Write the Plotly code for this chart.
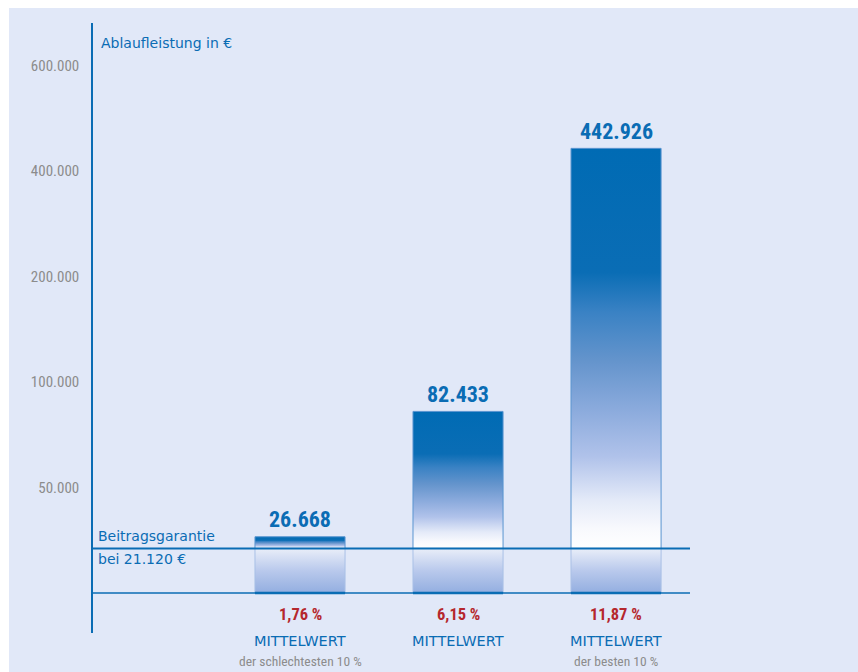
import numpy as np
import plotly.graph_objects as go

# ---- data ----
values = [26668, 82433, 442926]
value_labels = ["26.668", "82.433", "442.926"]
rate_labels = ["1,76 %", "6,15 %", "11,87 %"]
cat_main = ["MITTELWERT", "MITTELWERT", "MITTELWERT"]
cat_sub = ["der schlechtesten 10 %", "", "der besten 10 %"]
guarantee = 21120
guarantee_label = ["Beitragsgarantie", "bei 21.120 €"]
tick_values = [50000, 100000, 200000, 400000, 600000]
tick_labels = ["50.000", "100.000", "200.000", "400.000", "600.000"]
axis_title = "Ablaufleistung in €"

# ---- styles ----
BG = "#e1e8f8"
BLUE = "#0a6cb4"
GRAY = "#8c8c8c"
RED = "#b5272d"
NARROW = "Roboto Condensed, Roboto, DejaVu Sans Condensed, sans-serif"
SANS = "DejaVu Sans, Verdana, sans-serif"

W, H = 858, 672
ML, MR, MT, MB = 93, 168, 23, 39
PW, PH = W - ML - MR, H - MT - MB


def scale(v):
    """Broken axis: linear up to the first tick, log between the doubling ticks,
    linear on the last segment."""
    v = np.asarray(v, dtype=float)
    n = len(tick_values)
    pos_ticks = np.arange(1, n + 1, dtype=float)
    lin0 = v / tick_values[0]
    logpos = np.interp(np.log(np.maximum(v, 1.0)), np.log(tick_values[:-1]), pos_ticks[:-1])
    last = np.interp(v, tick_values[-2:], pos_ticks[-2:])
    return np.where(v <= tick_values[0], lin0, np.where(v <= tick_values[-2], logpos, last))


def py(pix):  # pixel row -> paper y
    return (H - MB - pix) / PH


def px(pix):  # pixel column -> paper x
    return (pix - ML) / PW


upper_scale = [[0, "#ffffff"], [0.05, "#f8f9fd"], [0.12, "#e4eaf8"], [0.23, "#b0c2ea"],
               [0.35, "#8aaadc"], [0.47, "#6494cc"], [0.59, "#3a82c4"],
               [0.69, "#0a6db5"], [1, "#006bb4"]]
lower_scale = [[0, "#93aee0"], [0.5, "#b9c9ec"], [1, "#e9eef9"]]

bar_w = 0.57
g = float(scale(guarantee))
fig = go.Figure()
for i, v in enumerate(values):
    top = float(scale(v))
    x0, x1 = i - bar_w / 2, i + bar_w / 2
    fig.add_trace(go.Scatter(
        x=[x0, x1, x1, x0, x0], y=[0, 0, g, g, 0], mode="lines",
        fill="toself", fillcolor="#b9c9ec",
        fillgradient=dict(type="vertical", colorscale=lower_scale, start=0, stop=g),
        line=dict(color="#a9c0e6", width=1), hoverinfo="skip", showlegend=False))
    fig.add_trace(go.Scatter(
        x=[x0, x1, x1, x0, x0], y=[g, g, top, top, g], mode="lines",
        fill="toself", fillcolor="#6494cc",
        fillgradient=dict(type="vertical", colorscale=upper_scale, start=g, stop=top),
        line=dict(color="#5a95d0", width=1), hoverinfo="skip", showlegend=False))
    fig.add_trace(go.Scatter(
        x=[x0, x1], y=[0, 0], mode="lines", line=dict(color=BLUE, width=2.5),
        hoverinfo="skip", showlegend=False))

shapes = [
    dict(type="rect", xref="paper", yref="paper", x0=px(0), x1=px(W), y0=py(0), y1=py(8),
         fillcolor="white", line_width=0, layer="below"),
    dict(type="rect", xref="paper", yref="paper", x0=px(0), x1=px(9), y0=py(H), y1=py(0),
         fillcolor="white", line_width=0, layer="below"),
    dict(type="line", xref="paper", yref="y", x0=0, x1=1, y0=g, y1=g,
         line=dict(color=BLUE, width=2)),
    dict(type="line", xref="paper", yref="y", x0=0, x1=1, y0=0, y1=0,
         line=dict(color=BLUE, width=1.5)),
]

ann = []
for i, v in enumerate(values):
    ann.append(dict(x=i, y=float(scale(v)), xref="x", yref="y", text=value_labels[i],
                    showarrow=False, yanchor="middle", yshift=17,
                    font=dict(family=NARROW, size=22, color=BLUE, weight=700)))
    ann.append(dict(x=i, y=py(614), xref="x", yref="paper", text=rate_labels[i],
                    showarrow=False, yanchor="middle",
                    font=dict(family=NARROW, size=16.5, color=RED, weight=700)))
    ann.append(dict(x=i, y=py(641), xref="x", yref="paper", text=cat_main[i],
                    showarrow=False, yanchor="middle",
                    font=dict(family=SANS, size=14.5, color=BLUE)))
    if cat_sub[i]:
        ann.append(dict(x=i, y=py(661), xref="x", yref="paper", text=cat_sub[i],
                        showarrow=False, yanchor="middle",
                        font=dict(family=NARROW, size=13.5, color=GRAY)))

ann.append(dict(x=px(99), y=py(43), xref="paper", yref="paper", text=axis_title,
                showarrow=False, xanchor="left", yanchor="middle",
                font=dict(family=SANS, size=14, color=BLUE)))
ann.append(dict(x=px(96), y=g, xref="paper", yref="y", text=guarantee_label[0],
                showarrow=False, xanchor="left", yanchor="middle", yshift=12,
                font=dict(family=SANS, size=14, color=BLUE)))
ann.append(dict(x=px(96), y=g, xref="paper", yref="y", text=guarantee_label[1],
                showarrow=False, xanchor="left", yanchor="middle", yshift=-11,
                font=dict(family=SANS, size=14, color=BLUE)))

fig.update_layout(
    width=W, height=H, margin=dict(l=ML, r=MR, t=MT, b=MB, pad=0),
    paper_bgcolor=BG, plot_bgcolor="rgba(0,0,0,0)",
    shapes=shapes, annotations=ann, showlegend=False,
    xaxis=dict(range=[-1.31, 2.468], visible=False, fixedrange=True),
    yaxis=dict(range=[-0.379, 5.403], showgrid=False, zeroline=False,
               showline=True, linecolor=BLUE, linewidth=1.5,
               tickvals=[float(t) for t in scale(tick_values)], ticktext=tick_labels,
               ticks="", ticklabelstandoff=9,
               tickfont=dict(family=NARROW, size=15, color=GRAY), fixedrange=True),
)

fig.write_html("out.html")
